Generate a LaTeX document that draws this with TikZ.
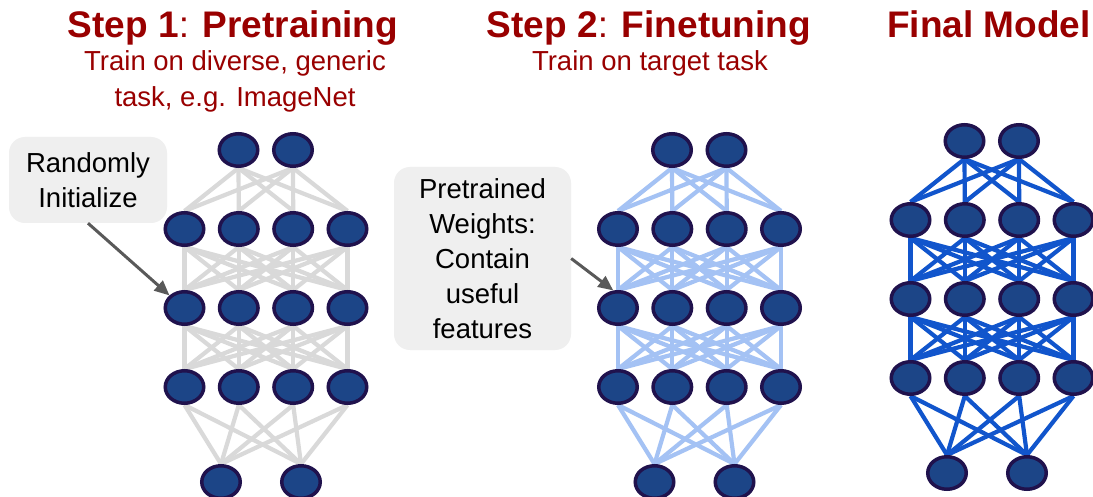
\documentclass[tikz,border=0pt]{standalone}
\usepackage{fontspec}
\setmainfont{Liberation Sans}
\usetikzlibrary{shapes.geometric,arrows.meta,backgrounds}
\definecolor{nodefill}{HTML}{1C4587}
\definecolor{nodeline}{HTML}{20124D}
\definecolor{edgegray}{HTML}{D9D9D9}
\definecolor{edgelight}{HTML}{A4C2F4}
\definecolor{edgeblue}{HTML}{1155CC}
\definecolor{titlered}{HTML}{990000}
\definecolor{boxgray}{HTML}{EFEFEF}
\definecolor{arrowgray}{HTML}{595959}
\tikzset{
  neuron/.style={ellipse, fill=nodefill, draw=nodeline, line width=3.5pt,
    minimum width=38.5pt, minimum height=32.5pt, inner sep=0pt},
  netedge/.style={line width=4.2pt},
  titletext/.style={font=\fontsize{37}{40}\selectfont, text=titlered, inner sep=0pt},
  subtext/.style={font=\fontsize{27.5}{36}\selectfont, text=titlered, align=center, inner sep=0pt},
  callout/.style={fill=boxgray, rounded corners=16pt, align=center,
    font=\fontsize{27.5}{35}\selectfont, inner sep=0pt},
  pointer/.style={draw=arrowgray, line width=3pt,
    -{Triangle[length=15pt,width=13pt]}, fill=arrowgray},
}
\newcommand\netdraw[4]{%
  \begin{scope}[shift={(#2,#3)}]
    \foreach \i/\x in {1/238.5,2/293} \node[neuron] (#1t\i) at (\x,150) {};
    \foreach \i/\x in {1/184.5,2/238.8,3/293.2,4/347.5} {
      \node[neuron] (#1a\i) at (\x,229) {};
      \node[neuron] (#1b\i) at (\x,308) {};
      \node[neuron] (#1c\i) at (\x,387) {};
    }
    \foreach \i/\x in {1/221,2/301} \node[neuron] (#1d\i) at (\x,482) {};
  \end{scope}
  \begin{scope}[on background layer]
    \foreach \i in {1,2} \foreach \j in {1,...,4}
      \draw[netedge,#4] (#1t\i.south) -- (#1a\j.north);
    \foreach \i in {1,...,4} \foreach \j in {1,...,4} {
      \draw[netedge,#4] (#1a\i.south) -- (#1b\j.north);
      \draw[netedge,#4] (#1b\i.south) -- (#1c\j.north);
    }
    \foreach \i in {1,...,4} \foreach \j in {1,2}
      \draw[netedge,#4] (#1c\i.south) -- (#1d\j.north);
  \end{scope}
}
\begin{document}
\begin{tikzpicture}[x=1pt,y=-1pt]
  \begin{scope}[on background layer]
    \fill[white] (0,0) rectangle (1093,497);
  \end{scope}
  \useasboundingbox (0,0) rectangle (1093,497);

  % titles
  \node[titletext, anchor=base] (title1) at (233,38) {\textbf{Step 1}: \textbf{Pretraining}};
  \node[subtext, anchor=base] (sub1) at (235,107) {Train on diverse, generic\\task, e.g. ImageNet};
  \node[titletext, anchor=base] (title2) at (649,38) {\textbf{Step 2}: \textbf{Finetuning}};
  \node[subtext, anchor=base] (sub2) at (650,71) {Train on target task};
  \node[titletext, anchor=base] (title3) at (989,38) {\textbf{Final Model}};

  % networks
  \netdraw{n1}{0}{0}{edgegray}
  \netdraw{n2}{433.5}{0}{edgelight}
  \netdraw{n3}{726}{-9}{edgeblue}

  % callouts
  \node[callout, minimum width=158pt, minimum height=86pt] (box1) at (88,180) {Randomly\\Initialize};
  \node[callout, minimum width=177pt, minimum height=183pt] (box2) at (482.5,258.5)
    {Pretrained\\Weights:\\Contain\\useful\\features};

  \draw[pointer] (box1.south) -- (n1b1.140);
  \draw[pointer] (box2.east) -- (n2b1.105);
\end{tikzpicture}
\end{document}
